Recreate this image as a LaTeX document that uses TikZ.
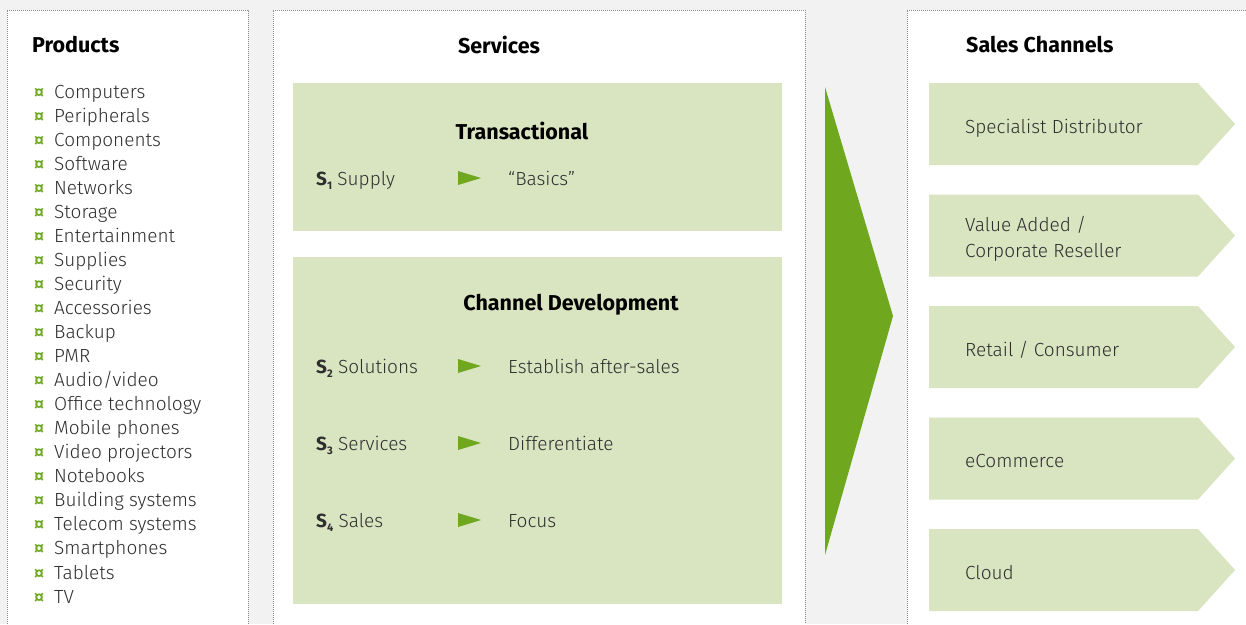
\documentclass[tikz,border=0pt]{standalone}
\usepackage{fontspec}
\setmainfont{Fira Sans}[UprightFont=* Light, BoldFont=* Bold]
\usetikzlibrary{positioning}

\definecolor{pagegray}{HTML}{F2F2F2}
\definecolor{panelline}{HTML}{8C8C8C}
\definecolor{palegreen}{HTML}{D9E4C1}
\definecolor{leafgreen}{HTML}{6FA81E}
\definecolor{inkgray}{HTML}{2E2E2E}

\tikzset{
  heading/.style={font=\fontsize{21.5}{24}\selectfont\bfseries, text=black, inner sep=0pt},
  entry/.style={font=\fontsize{19}{26}\selectfont, text=inkgray, inner sep=0pt,
      anchor=base west, yshift=-7pt},
  bulleted/.style={label={[font=\fontsize{17}{18}\selectfont\bfseries, text=leafgreen,
      inner sep=0pt, xshift=-10pt, anchor=base east]base west:¤}},
  rim/.style={draw=panelline, densely dotted, line width=1pt},
  tri/.pic={\fill[leafgreen] (-11,-7) -- (12,0) -- (-11,7) -- cycle;}
}
\newcommand{\Snum}[1]{\textbf{S}\raisebox{-0.5ex}{\fontsize{11}{12}\selectfont\bfseries #1}}

\begin{document}
\begin{tikzpicture}[x=1pt,y=-1pt]

  % Background and panels
  \fill[pagegray] (0,0) rectangle (1246,624);
  \useasboundingbox (0,0) rectangle (1246,624);
  \fill[white] (7,10) rectangle (248,624);
  \draw[rim] (7,624) -- (7,10) -- (248,10) -- (248,624);
  \fill[white] (273,10) rectangle (805,624);
  \draw[rim] (273,624) -- (273,10) -- (805,10) -- (805,624);
  \fill[white] (907,10) rectangle (1250,624);
  \draw[rim] (907,624) -- (907,10) -- (1250,10);

  % Products
  \node[heading, anchor=west] (products) at (32,45) {Products};
  \foreach \item [count=\i] in {Computers, Peripherals, Components, Software,
      Networks, Storage, Entertainment, Supplies, Security, Accessories, Backup,
      PMR, Audio/video, Office technology, Mobile phones, Video projectors,
      Notebooks, Building systems, Telecom systems, Smartphones, Tablets, TV}
    \node[entry, bulleted] (prod\i) at (54,{91+(\i-1)*24.05}) {\item};

  % Services
  \node[heading] (services) at (499,45) {Services};
  \fill[palegreen] (293,83) rectangle (782,231);
  \fill[palegreen] (293,257) rectangle (782,604);
  \node[heading] (transactional) at (522,131) {Transactional};
  \node[entry] (s1) at (316,178) {\Snum{1} Supply};
  \pic at (469,178) {tri};
  \node[entry] (basics) at (508,178) {“Basics”};
  \node[heading] (development) at (571,305) {Channel Development};
  \node[entry] (s2) at (316,366) {\Snum{2} Solutions};
  \pic at (469,366) {tri};
  \node[entry] (aftersales) at (508,366) {Establish after-sales};
  \node[entry] (s3) at (316,443) {\Snum{3} Services};
  \pic at (469,443) {tri};
  \node[entry] (differentiate) at (508,443) {Differentiate};
  \node[entry] (s4) at (316,520) {\Snum{4} Sales};
  \pic at (469,520) {tri};
  \node[entry] (focus) at (508,520) {Focus};

  % Big arrow
  \fill[leafgreen] (825,87) -- (893,316) -- (825,555) -- cycle;

  % Sales channels
  \node[heading, anchor=west] (channels) at (966,45) {Sales Channels};
  \foreach \label [count=\i] in {Specialist Distributor, Retail / Consumer, eCommerce, Cloud} {
    \pgfmathsetmacro{\top}{83+(\i>1)*111.5+(\i-1)*111.5}
    \fill[palegreen] (929,\top) -- (1198,\top) -- (1235,\top+41)
      -- (1198,\top+82) -- (929,\top+82) -- cycle;
    \node[entry] (chan\i) at (965,\top+43) {\label};
  }
  \fill[palegreen] (929,194.5) -- (1198,194.5) -- (1235,235.5)
    -- (1198,276.5) -- (929,276.5) -- cycle;
  \node[entry] (valueadded) at (965,224) {Value Added /};
  \node[entry] (reseller) at (965,250) {Corporate Reseller};

\end{tikzpicture}
\end{document}
